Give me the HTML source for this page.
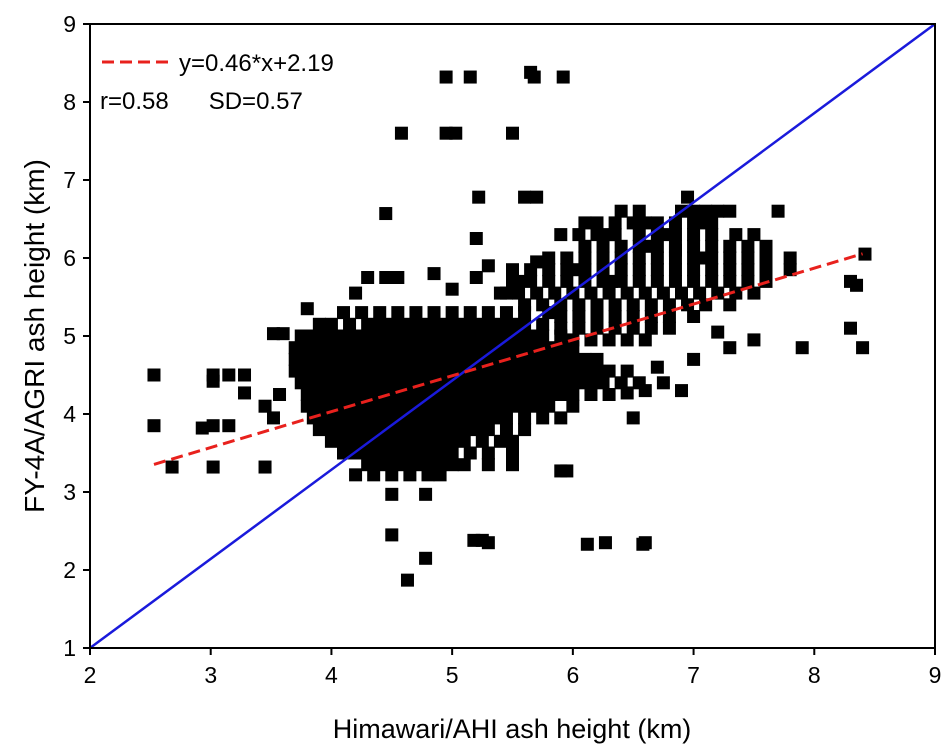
<!DOCTYPE html>
<html><head><meta charset="utf-8"><style>
html,body{margin:0;padding:0;background:#fff;}
svg{display:block;font-family:"Liberation Sans",Arial,sans-serif;}
</style></head><body>
<svg id="chart" width="946" height="752" viewBox="0 0 946 752" xmlns="http://www.w3.org/2000/svg">
<g id="marks"></g>
<g id="lines"></g>
<g id="axes"></g>
<g id="legend">
  <line x1="102" y1="62" x2="172" y2="62" stroke="#e8211d" stroke-width="3" stroke-dasharray="12,6"/>
  <text x="179" y="71" font-size="24">y=0.46*x+2.19</text>
  <text x="100" y="109" font-size="24">r=0.58<tspan dx="40">SD=0.57</tspan></text>
</g>
<text x="512" y="738" font-size="27" text-anchor="middle">Himawari/AHI ash height (km)</text>
<text transform="translate(44,336) rotate(-90)" font-size="28" text-anchor="middle">FY-4A/AGRI ash height (km)</text>
</svg>
<script>
const xTicks = [2,3,4,5,6,7,8,9];
const yTicks = [1,2,3,4,5,6,7,8,9];
const fitSlope = 0.46;
const fitIntercept = 2.19;
const fitRange = [2.53, 8.4];
const outliers = [[2.53,4.5],[2.53,3.85],[2.68,3.32],[3.02,4.5],[3.02,4.42],[3.02,3.85],[3.02,3.32],[2.93,3.82],[3.15,4.5],[3.15,3.85],[3.28,4.5],[3.28,4.27],[3.45,3.32],[3.45,4.1],[3.52,5.03],[3.6,5.03],[3.52,3.95],[3.57,4.25],[4.45,6.57],[4.95,8.32],[5.15,8.32],[5.65,8.38],[5.68,8.32],[5.92,8.32],[4.58,7.6],[4.95,7.6],[5.03,7.6],[5.5,7.6],[5.22,6.78],[5.6,6.78],[5.7,6.78],[5.2,6.25],[4.5,2.45],[4.78,2.15],[4.63,1.87],[5.18,2.38],[5.3,2.35],[5.25,2.38],[6.12,2.33],[6.27,2.35],[6.58,2.33],[6.6,2.35],[4.5,2.97],[4.78,2.97],[5.9,3.27],[5.95,3.27],[6.5,3.95],[6.6,4.3],[7.9,4.85],[8.3,5.1],[8.4,4.85],[8.3,5.7],[8.42,6.05],[8.35,5.65],[6.95,6.78],[6.9,4.3],[6.45,4.27],[6.85,6.1],[3.8,5.35],[4.3,5.75],[4.45,5.75],[4.55,5.75],[4.85,5.8],[5.0,5.6],[5.2,5.75],[5.45,5.55],[5.55,5.7],[4.2,5.55],[5.7,5.95],[5.3,5.9],[7.3,4.85],[7.5,4.95],[7.2,5.05],[6.7,4.6],[7.0,4.7]];
const clusterRows = [
 [5.3,[4.1,4.25,4.4,4.55,4.7,4.85,5.0,5.15,5.3,5.45,5.6,5.8]],
 [5.15,[3.9,4.0,4.15,4.3,4.4,4.5,4.6,4.7,4.8,4.9,5.0,5.1,5.2,5.3,5.4,5.5,5.6,5.75]],
 [5.0,[3.75,3.85,3.95,4.05,4.15,4.25,4.35,4.45,4.55,4.65,4.75,4.85,4.95,5.05,5.15,5.25,5.35,5.45,5.55,5.65,5.75,5.9]],
 [4.85,[3.7,3.8,3.9,4.0,4.1,4.2,4.3,4.4,4.5,4.6,4.7,4.8,4.9,5.0,5.1,5.2,5.3,5.4,5.5,5.6,5.7,5.8,5.9,6.0]],
 [4.7,[3.7,3.8,3.9,4.0,4.1,4.2,4.3,4.4,4.5,4.6,4.7,4.8,4.9,5.0,5.1,5.2,5.3,5.4,5.5,5.6,5.7,5.8,5.9,6.0,6.1,6.2]],
 [4.55,[3.7,3.8,3.9,4.0,4.1,4.2,4.3,4.4,4.5,4.6,4.7,4.8,4.9,5.0,5.1,5.2,5.3,5.4,5.5,5.6,5.7,5.8,5.9,6.0,6.1,6.2,6.3,6.45]],
 [4.4,[3.75,3.85,3.95,4.05,4.15,4.25,4.35,4.45,4.55,4.65,4.75,4.85,4.95,5.05,5.15,5.25,5.35,5.45,5.55,5.65,5.75,5.85,5.95,6.05,6.15,6.25,6.4,6.55,6.75]],
 [4.25,[3.8,3.9,4.0,4.1,4.2,4.3,4.4,4.5,4.6,4.7,4.8,4.9,5.0,5.1,5.2,5.3,5.4,5.5,5.6,5.7,5.8,5.9,6.0,6.15,6.3]],
 [4.1,[3.8,3.9,4.0,4.1,4.2,4.3,4.4,4.5,4.6,4.7,4.8,4.9,5.0,5.1,5.2,5.3,5.4,5.5,5.6,5.7,5.8,6.0]],
 [3.95,[3.85,3.95,4.05,4.15,4.25,4.35,4.45,4.55,4.65,4.75,4.85,4.95,5.05,5.15,5.25,5.35,5.45,5.6,5.75,5.9]],
 [3.8,[3.9,4.0,4.1,4.2,4.3,4.4,4.5,4.6,4.7,4.8,4.9,5.0,5.1,5.2,5.3,5.45,5.6]],
 [3.65,[4.0,4.1,4.2,4.3,4.4,4.5,4.6,4.7,4.8,4.9,5.0,5.1,5.25,5.4,5.5]],
 [3.5,[4.1,4.2,4.3,4.4,4.5,4.6,4.7,4.8,4.9,5.0,5.15,5.3,5.5]],
 [3.35,[4.3,4.4,4.5,4.6,4.7,4.8,4.9,5.0,5.1,5.3,5.5]],
 [3.22,[4.2,4.35,4.5,4.65,4.8,4.9]],
 [6.6,[6.4,6.55,6.9,7.0,7.1,7.2,7.3,7.7]],
 [6.45,[6.1,6.2,6.35,6.5,6.6,6.7,6.85,7.0,7.1,7.15]],
 [6.3,[5.9,6.05,6.2,6.3,6.35,6.55,6.7,6.8,6.85,7.0,7.15,7.35,7.5]],
 [6.15,[6.1,6.25,6.4,6.55,6.62,6.7,6.85,7.0,7.15,7.3,7.45,7.6]],
 [6.0,[5.8,5.95,6.1,6.25,6.4,6.55,6.7,6.85,7.0,7.08,7.15,7.3,7.45,7.6,7.8]],
 [5.85,[5.5,5.65,5.8,5.95,6.02,6.1,6.25,6.4,6.55,6.7,6.85,7.0,7.15,7.3,7.45,7.6,7.8]],
 [5.7,[5.5,5.65,5.8,5.95,6.1,6.25,6.32,6.4,6.55,6.7,6.85,7.0,7.15,7.3,7.45,7.6]],
 [5.55,[5.4,5.55,5.7,5.85,6.0,6.15,6.3,6.45,6.6,6.75,6.9,7.05,7.2,7.35,7.5]],
 [5.4,[5.6,5.75,5.9,6.05,6.2,6.35,6.5,6.65,6.8,6.95,7.1,7.3]],
 [5.25,[5.9,6.05,6.2,6.35,6.5,6.65,6.8,7.0]],
 [5.1,[5.9,6.05,6.2,6.35,6.5,6.65,6.8]],
 [4.95,[6.0,6.15,6.3,6.45,6.6]]
];
const X0=90, X1=935, Y0=648, Y1=24;
const sx = v => X0 + (v-2)/(9-2)*(X1-X0);
const sy = v => Y0 - (v-1)/(9-1)*(Y0-Y1);
const NS='http://www.w3.org/2000/svg';
function mk(tag, attrs, parent){const e=document.createElementNS(NS,tag);for(const k in attrs)e.setAttribute(k,attrs[k]);parent.appendChild(e);return e;}
const marks=document.getElementById('marks');
const pts = outliers.slice();
clusterRows.forEach(r=>r[1].forEach(x=>pts.push([x,r[0]])));
const S=13;
pts.forEach(p=>{
  const r=mk('rect',{x:sx(p[0])-S/2,y:sy(p[1])-S/2,width:S,height:S,fill:'#000'},marks);
  
  
});
const lines=document.getElementById('lines');
const one=mk('line',{x1:sx(2),y1:sy(1),x2:sx(9),y2:sy(9),stroke:'#1a1adb','stroke-width':2.5},lines);


const fit=mk('line',{x1:sx(fitRange[0]),y1:sy(fitSlope*fitRange[0]+fitIntercept),x2:sx(fitRange[1]),y2:sy(fitSlope*fitRange[1]+fitIntercept),stroke:'#e8211d','stroke-width':3,'stroke-dasharray':'12,6'},lines);


const axes=document.getElementById('axes');
const frame=mk('rect',{x:X0,y:Y1,width:X1-X0,height:Y0-Y1,fill:'none',stroke:'#000','stroke-width':2},axes);


xTicks.forEach(t=>{
  const l=mk('line',{x1:sx(t),y1:Y0,x2:sx(t),y2:Y0+7,stroke:'#000','stroke-width':2},axes);
  
  
  const tx=mk('text',{x:sx(t),y:Y0+35,'font-size':23,'text-anchor':'middle'},axes);
  tx.textContent=t;
  
  
});
yTicks.forEach(t=>{
  const l=mk('line',{x1:X0-7,y1:sy(t),x2:X0,y2:sy(t),stroke:'#000','stroke-width':2},axes);
  
  
  const tx=mk('text',{x:X0-14,y:sy(t)+8,'font-size':23,'text-anchor':'end'},axes);
  tx.textContent=t;
  
  
});
</script>
</body></html>
